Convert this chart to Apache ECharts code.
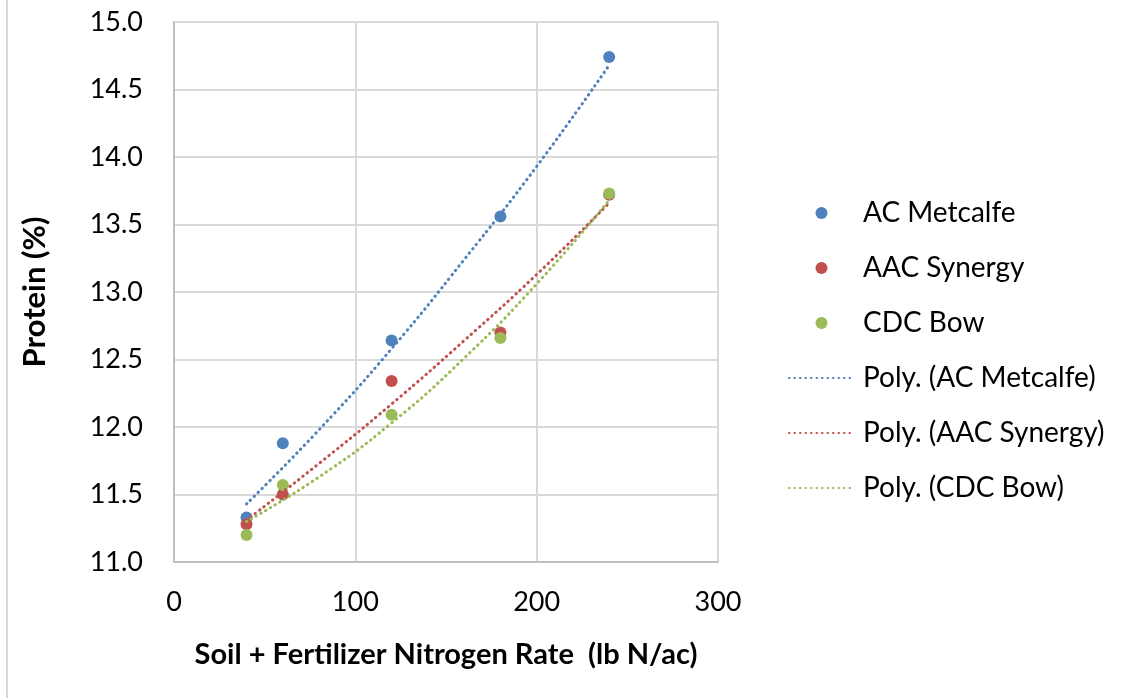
<!DOCTYPE html>
<html>
<head>
<meta charset="utf-8">
<script src="https://cdn.jsdelivr.net/npm/echarts@6/dist/echarts.min.js"></script>
<style>html,body{margin:0;padding:0;background:#fff;}#c{width:1133px;height:698px;}</style>
</head>
<body>
<div id="c"></div>
<script>
// Data
const nRate = [40, 60, 120, 180, 240];
const acMetcalfe = [11.33, 11.88, 12.64, 13.56, 14.74];
const aacSynergy = [11.28, 11.50, 12.34, 12.70, 13.72];
const cdcBow = [11.20, 11.57, 12.09, 12.66, 13.73];
// Trendline values
const trendX = [40, 80, 120, 160, 200, 240];
const metcalfeTrend = [11.43, 11.98, 12.58, 13.24, 13.93, 14.68];
const synergyTrend = [11.31, 11.73, 12.17, 12.64, 13.13, 13.66];
const bowTrend = [11.30, 11.63, 12.03, 12.51, 13.06, 13.68];
const seriesNames = ['AC Metcalfe', 'AAC Synergy', 'CDC Bow'];
const trendNames = ['Poly. (AC Metcalfe)', 'Poly. (AAC Synergy)', 'Poly. (CDC Bow)'];
const colors = ['#4F81BD', '#C0504D', '#9BBB59'];

const pts = (xs, ys) => xs.map((x, i) => [x, ys[i]]);
const vals = [acMetcalfe, aacSynergy, cdcBow];
const trends = [metcalfeTrend, synergyTrend, bowTrend];
const font = 'Lato, "Open Sans", "Liberation Sans", sans-serif';

const series = [];
trends.forEach((t, i) => {
  series.push({
    name: trendNames[i], type: 'line', data: pts(trendX, t), smooth: true,
    showSymbol: false, symbol: 'none', z: 3,
    lineStyle: { color: colors[i], width: 3, type: [0.5, 5], cap: 'round' },
    itemStyle: { color: colors[i] }
  });
});
vals.forEach((v, i) => {
  series.push({
    name: seriesNames[i], type: 'scatter', data: pts(nRate, v), symbol: 'circle', symbolSize: 12, z: 2,
    itemStyle: { color: colors[i], opacity: 1 }
  });
});

const chart = echarts.init(document.getElementById('c'), null, { renderer: 'canvas' });
chart.setOption({
  animation: false,
  backgroundColor: '#fff',
  grid: { left: 174, right: 415, top: 22, bottom: 136, containLabel: false },
  xAxis: {
    type: 'value', min: 0, max: 300, interval: 100,
    name: 'Soil + Fertilizer Nitrogen Rate  (lb N/ac)', nameLocation: 'middle', nameGap: 93,
    nameTextStyle: { fontFamily: font, fontSize: 29, fontWeight: 'bold', color: '#000', verticalAlign: 'middle' },
    axisLine: { lineStyle: { color: '#BFBFBF', width: 2 } },
    axisTick: { show: false },
    axisLabel: { fontFamily: font, fontSize: 27, color: '#000', margin: 27 },
    splitLine: { lineStyle: { color: '#D9D9D9', width: 2 } }
  },
  yAxis: {
    type: 'value', min: 11, max: 15, interval: 0.5,
    name: 'Protein (%)', nameLocation: 'middle', nameGap: 139, nameRotate: 90,
    nameTextStyle: { fontFamily: font, fontSize: 31, fontWeight: 'bold', color: '#000', verticalAlign: 'middle' },
    axisLine: { show: true, lineStyle: { color: '#BFBFBF', width: 2 } },
    axisTick: { show: false },
    axisLabel: { fontFamily: font, fontSize: 27, color: '#000', margin: 31, formatter: v => v.toFixed(1) },
    splitLine: { lineStyle: { color: '#D9D9D9', width: 2 } }
  },
  legend: {
    orient: 'vertical', left: 783, top: 192,
    itemWidth: 65, itemHeight: 12, itemGap: 23,
    textStyle: { fontFamily: font, fontSize: 28, color: '#000', lineHeight: 32, padding: [0, 0, 0, 4] },
    data: [
      { name: seriesNames[0], icon: 'circle' },
      { name: seriesNames[1], icon: 'circle' },
      { name: seriesNames[2], icon: 'circle' },
      { name: trendNames[0], itemStyle: { opacity: 0 } },
      { name: trendNames[1], itemStyle: { opacity: 0 } },
      { name: trendNames[2], itemStyle: { opacity: 0 } }
    ]
  },
  graphic: [{
    type: 'line', shape: { x1: 7, y1: 0, x2: 7, y2: 698 },
    style: { stroke: '#D9D9D9', lineWidth: 2 }, silent: true
  }],
  series: series
});
</script>
</body>
</html>
